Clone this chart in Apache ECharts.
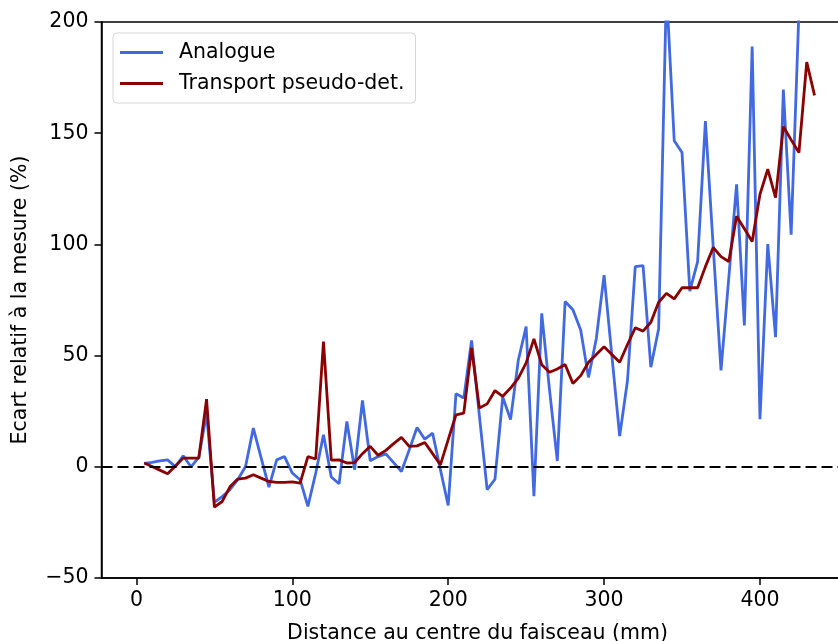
<!DOCTYPE html>
<html>
<head>
<meta charset="utf-8">
<script src="https://cdn.jsdelivr.net/npm/echarts@6/dist/echarts.min.js"></script>
<style>
html, body { margin: 0; padding: 0; background: #fff; }
#chart { width: 838px; height: 641px; }
</style>
</head>
<body>
<div id="chart"></div>
<script>
// distance au centre du faisceau (mm)
const distances = [
  5, 10, 15, 20, 25, 30, 35, 40, 45, 50, 55, 60, 65, 70, 75, 80, 85, 90, 95, 100,
  105, 110, 115, 120, 125, 130, 135, 140, 145, 150, 155, 160, 165, 170, 175, 180, 185, 190, 195, 200,
  205, 210, 215, 220, 225, 230, 235, 240, 245, 250, 255, 260, 265, 270, 275, 280, 285, 290, 295, 300,
  305, 310, 315, 320, 325, 330, 335, 340, 345, 350, 355, 360, 365, 370, 375, 380, 385, 390, 395, 400,
  405, 410, 415, 420, 425, 430, 435
];

// Analogue (%) - s'arrete a 430 mm
const analogue = [
  1.5, 2, 2.7, 3.1, 0, 5, 0, 4.2, 24, -16, -13.4, -10.3, -5.8, 0.1, 17.4, 4, -9.1, 3.1, 4.6, -2.8,
  -5.8, -17.8, -2.9, 14.4, -4.6, -7.6, 20.4, -1.3, 29.8, 2.7, 4.6, 5.8, 1.9, -2.1, 7.6, 17.7, 12.4, 15.1, -1.2, -17.4,
  32.9, 30.9, 56.8, 23, -10.3, -5.6, 31.4, 21.2, 48, 63, -13.2, 69, 34.6, 2.6, 74.3, 70.6, 61.5, 40.2, 57.6, 86.2,
  50, 13.8, 38.7, 90, 90.5, 44.8, 62.1, 215, 146.6, 141.3, 79, 92.3, 155.4, 99, 43.3, 85, 127, 63.6, 189, 21.4,
  100.1, 58.3, 169.6, 104.4, 205, 235
];

// Transport pseudo-det. (%)
const transport = [
  1.7, 0.1, -1.5, -3.1, 0.4, 3.9, 3.9, 3.9, 30.4, -18.1, -15.6, -9, -5.5, -5.1, -3.6, -5.1, -6.6, -7, -7, -6.8,
  -7.3, 4.6, 3.5, 56.3, 3, 3.1, 1.7, 1.9, 5.9, 9.2, 5.2, 7.4, 10.4, 13.2, 9.2, 9.4, 10.9, 5.9, 0.9, 12.2,
  23.4, 24.1, 53.4, 26.4, 28.3, 34.3, 31.7, 35.4, 39.9, 46.7, 57.5, 45.9, 42.5, 44, 46, 37.5, 41, 47, 50.5, 54,
  50.5, 47, 55, 62.5, 61, 65, 74, 78, 75.5, 80.5, 80.5, 80.5, 90, 98.6, 94.5, 92.3, 112.7, 107, 101.3, 122.5,
  133.8, 121, 153, 147, 141.3, 182, 167
];

const xTicks = [0, 100, 200, 300, 400];
const yTicks = [-50, 0, 50, 100, 150, 200];

const font = 'DejaVu Sans';
const fs = 20.5;
const minus = v => String(v).replace('-', '\u2212');

let chart = echarts.init(document.getElementById('chart'));

let option = {
  animation: false,
  backgroundColor: '#fff',
  grid: {
    left: 101.5,
    top: 22,
    width: 752,
    height: 556,
    show: true,
    borderColor: '#000',
    borderWidth: 1.5,
    containLabel: false,
    outerBoundsMode: 'none'
  },
  legend: {
    orient: 'vertical',
    left: 113,
    top: 33,
    data: ['Analogue', 'Transport pseudo-det.'],
    icon: 'rect',
    itemWidth: 43,
    itemHeight: 3,
    itemGap: 8,
    padding: [8, 11, 8, 7],
    backgroundColor: 'rgba(255,255,255,0.8)',
    borderColor: '#d5d5d5',
    borderWidth: 1,
    borderRadius: 4,
    textStyle: {
      fontFamily: font,
      fontSize: fs,
      color: '#000',
      lineHeight: 23,
      padding: [0, 0, 0, 11]
    }
  },
  xAxis: {
    type: 'value',
    min: -22.4,
    max: 460,
    name: 'Distance au centre du faisceau (mm)',
    nameLocation: 'middle',
    nameGap: 45,
    nameTextStyle: { fontFamily: font, fontSize: fs, color: '#000' },
    axisLine: { show: true, onZero: false, lineStyle: { color: '#000', width: 1.5 } },
    axisTick: { show: true, length: 7, customValues: xTicks, lineStyle: { color: '#000', width: 1.5 } },
    axisLabel: { customValues: xTicks, margin: 12, fontFamily: font, fontSize: fs, color: '#000', formatter: minus },
    splitLine: { show: false }
  },
  yAxis: {
    type: 'value',
    min: -50,
    max: 200,
    interval: 50,
    name: 'Ecart relatif à la mesure (%)',
    nameLocation: 'middle',
    nameGap: 70,
    nameTextStyle: { fontFamily: font, fontSize: fs, color: '#000' },
    axisLine: { show: true, onZero: false, lineStyle: { color: '#000', width: 1.5 } },
    axisTick: { show: true, length: 7, customValues: yTicks, lineStyle: { color: '#000', width: 1.5 } },
    axisLabel: { customValues: yTicks, margin: 13, fontFamily: font, fontSize: fs, color: '#000', formatter: minus },
    splitLine: { show: false }
  },
  series: [
    {
      name: 'Analogue',
      type: 'line',
      data: analogue.map((v, i) => [distances[i], v]),
      showSymbol: false,
      symbol: 'none',
      color: '#4169e1',
      lineStyle: { color: '#4169e1', width: 2.8 },
      clip: true,
      z: 2
    },
    {
      name: 'Transport pseudo-det.',
      type: 'line',
      data: transport.map((v, i) => [distances[i], v]),
      showSymbol: false,
      symbol: 'none',
      color: '#8b0000',
      lineStyle: { color: '#8b0000', width: 2.8 },
      clip: true,
      z: 3,
      markLine: {
        silent: true,
        symbol: ['none', 'none'],
        label: { show: false },
        lineStyle: { color: '#000', type: [11, 5], width: 2.2 },
        data: [{ yAxis: 0 }]
      }
    }
  ]
};

chart.setOption(option, true);
</script>
</body>
</html>
